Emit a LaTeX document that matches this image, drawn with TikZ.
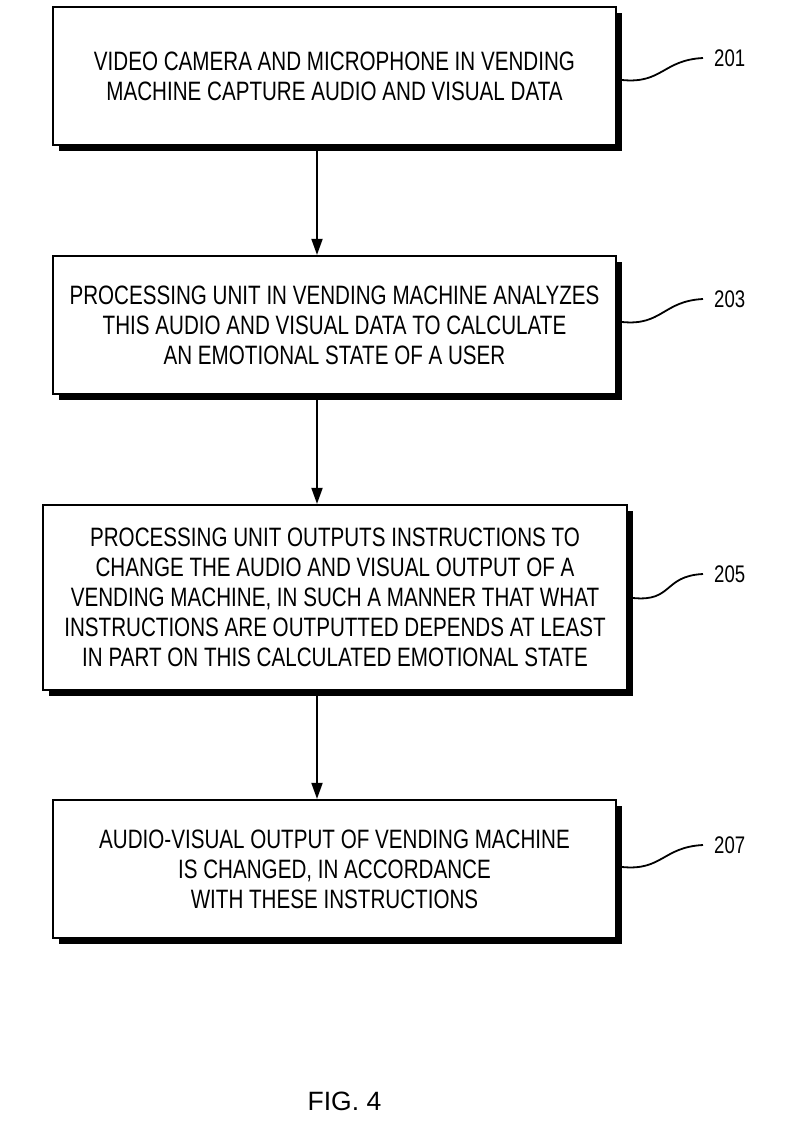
\documentclass[tikz,border=0pt]{standalone}
\usepackage{fontspec}
\setmainfont{Liberation Sans}
\newfontfamily\narrowfont[FakeStretch=0.775]{Liberation Sans}
\usetikzlibrary{arrows.meta,shadows}
\begin{document}
\begin{tikzpicture}[x=1pt,y=-1pt,
  stepbox/.style={draw,line width=2.2pt,fill=white,align=center,inner sep=0pt,
    font=\narrowfont\fontsize{26.6}{30}\selectfont,
    drop shadow={shadow xshift=5.5pt,shadow yshift=-5.5pt,fill=black,opacity=1}},
  flow/.style={line width=1.8pt,-{Triangle[length=16pt,width=11pt]}},
  leader/.style={line width=1.8pt},
  reflabel/.style={anchor=west,inner sep=0pt,font=\narrowfont\fontsize{24}{28}\selectfont}]
\useasboundingbox[fill=white] (0,0) rectangle (803,1136);
\node[stepbox,minimum width=563pt,minimum height=138pt] (b1) at (334.5,76)
  {VIDEO CAMERA AND MICROPHONE IN VENDING\\MACHINE CAPTURE AUDIO AND VISUAL DATA};
\node[stepbox,minimum width=563pt,minimum height=138pt] (b2) at (334.5,325)
  {PROCESSING UNIT IN VENDING MACHINE ANALYZES\\THIS AUDIO AND VISUAL DATA TO CALCULATE\\AN EMOTIONAL STATE OF A USER};
\node[stepbox,minimum width=584pt,minimum height=185pt] (b3) at (335,597.5)
  {PROCESSING UNIT OUTPUTS INSTRUCTIONS TO\\CHANGE THE AUDIO AND VISUAL OUTPUT OF A\\VENDING MACHINE, IN SUCH A MANNER THAT WHAT\\INSTRUCTIONS ARE OUTPUTTED DEPENDS AT LEAST\\IN PART ON THIS CALCULATED EMOTIONAL STATE};
\node[stepbox,minimum width=563pt,minimum height=138pt] (b4) at (334.5,869)
  {AUDIO-VISUAL OUTPUT OF VENDING MACHINE\\IS CHANGED, IN ACCORDANCE\\WITH THESE INSTRUCTIONS};

\draw[flow] ([xshift=-17.5pt,yshift=-5pt]b1.south) -- ([xshift=-17.5pt]b2.north);
\draw[flow] ([xshift=-17.5pt,yshift=-5pt]b2.south) -- ([xshift=-18pt]b3.north);
\draw[flow] ([xshift=-18pt,yshift=-5pt]b3.south) -- ([xshift=-17.5pt]b4.north);

\node[reflabel] (l1) at (714,58) {201};
\node[reflabel] (l2) at (714,299) {203};
\node[reflabel] (l3) at (714,574) {205};
\node[reflabel] (l4) at (714,845) {207};

\coordinate (s1) at ([xshift=5pt,yshift=-4pt]b1.east);
\coordinate (s2) at ([xshift=5pt,yshift=3pt]b2.east);
\coordinate (s3) at ([xshift=5pt,yshift=-0.5pt]b3.east);
\coordinate (s4) at ([xshift=5pt,yshift=2pt]b4.east);
\coordinate (e1) at ([xshift=-11pt]l1.west);
\coordinate (e2) at ([xshift=-11pt]l2.west);
\coordinate (e3) at ([xshift=-11pt]l3.west);
\coordinate (e4) at ([xshift=-11pt]l4.west);
\draw[leader] (s1) .. controls +(40,4) and +(-40,2) .. (e1);
\draw[leader] (s2) .. controls +(40,4) and +(-40,2) .. (e2);
\draw[leader] (s3) .. controls +(40,4) and +(-40,2) .. (e3);
\draw[leader] (s4) .. controls +(40,4) and +(-40,2) .. (e4);

\node[font=\fontsize{26.5}{30}\selectfont,inner sep=0pt] (fig) at (344.5,1101) {FIG. 4};
\end{tikzpicture}
\end{document}
